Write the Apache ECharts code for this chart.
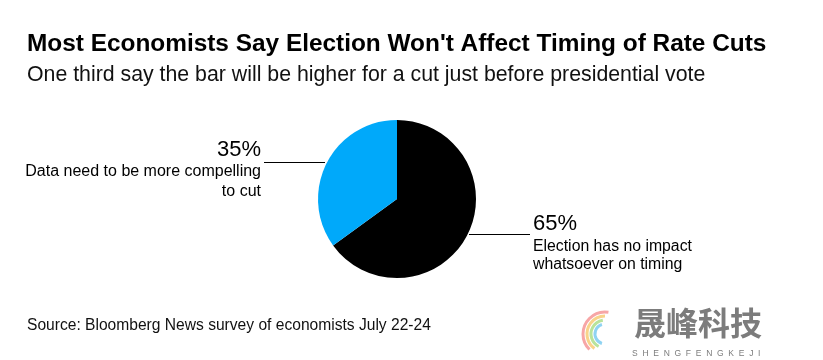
<!DOCTYPE html>
<html><head><meta charset="utf-8">
<script src="https://cdn.jsdelivr.net/npm/echarts@6/dist/echarts.min.js"></script>
<style>html,body{margin:0;padding:0;background:#fff}#c{width:823px;height:360px}</style>
</head><body><div id="c"></div>
<script>
var titleText = "Most Economists Say Election Won't Affect Timing of Rate Cuts";
var subtitleText = "One third say the bar will be higher for a cut just before presidential vote";
var sourceText = "Source: Bloomberg News survey of economists July 22-24";
var categories = ["Election has no impact\nwhatsoever on timing", "Data need to be more compelling\nto cut"];
var values = [65, 35];
var colors = ["#000000", "#00A9FA"];

var FONT = "'Liberation Sans', Arial, Helvetica, sans-serif";
var chart = echarts.init(document.getElementById('c'), null, {renderer: 'canvas'});
var pieData = categories.map(function (c, i) {
  return {name: c, value: values[i], itemStyle: {color: colors[i]}};
});
chart.setOption({
  animation: false,
  backgroundColor: '#fff',
  title: [
    {text: titleText, left: 27, top: 32, padding: 0, textStyle: {fontFamily: FONT, fontSize: 24.4, fontWeight: 'bold', color: '#000'}},
    {text: subtitleText, left: 27, top: 64.5, padding: 0, textStyle: {fontFamily: FONT, fontSize: 21.3, fontWeight: 'normal', color: '#111'}},
    {text: sourceText, left: 27, top: 318, padding: 0, textStyle: {fontFamily: FONT, fontSize: 15.6, fontWeight: 'normal', color: '#111'}}
  ],
  series: [{
    type: 'pie',
    center: [397, 199],
    radius: [0, 79],
    startAngle: 90,
    clockwise: true,
    silent: true,
    data: pieData,
    label: {
      show: true,
      fontFamily: FONT,
      formatter: function (p) {
        var k = p.dataIndex;
        return '{p' + k + '|' + p.value + '%}\n{t' + k + '|' + p.name.split('\n').join('}\n{t' + k + '|') + '}';
      },
      rich: {
        p0: {fontFamily: FONT, fontSize: 22, lineHeight: 27.3, color: '#000'},
        t0: {fontFamily: FONT, fontSize: 15.8, lineHeight: 18.3, color: '#000'},
        p1: {fontFamily: FONT, fontSize: 22, lineHeight: 22.2, color: '#000'},
        t1: {fontFamily: FONT, fontSize: 16, lineHeight: 20, color: '#000'}
      }
    },
    labelLine: {show: true, lineStyle: {color: '#000', width: 1}, length: 10, length2: 10},
    labelLayout: function (params) {
      if (params.dataIndex === 0) {
        return {x: 533, y: 209.9, align: 'left', verticalAlign: 'top',
          labelLinePoints: [[469, 234.5], [500, 234.5], [530, 234.5]]};
      }
      return {x: 261, y: 139.1, align: 'right', verticalAlign: 'top',
        labelLinePoints: [[325, 162.5], [295, 162.5], [264, 162.5]]};
    }
  }],
  graphic: [
    {type: 'rect', shape: {x: 0, y: 160, width: 25, height: 30}, style: {fill: '#fff'}, z: 100},
    {type: 'arc', shape: {cx: 605, cy: 334, r: 22, startAngle: Math.PI * 0.75, endAngle: Math.PI * 1.55}, style: {stroke: '#f7a6a6', lineWidth: 3, fill: null}, z: 50},
    {type: 'arc', shape: {cx: 605, cy: 334, r: 18, startAngle: Math.PI * 0.7, endAngle: Math.PI * 1.5}, style: {stroke: '#f8d38a', lineWidth: 3, fill: null}, z: 50},
    {type: 'arc', shape: {cx: 605, cy: 334, r: 14, startAngle: Math.PI * 0.65, endAngle: Math.PI * 1.45}, style: {stroke: '#b9e39b', lineWidth: 3, fill: null}, z: 50},
    {type: 'arc', shape: {cx: 605, cy: 334, r: 10, startAngle: Math.PI * 0.6, endAngle: Math.PI * 1.4}, style: {stroke: '#8fd3f2', lineWidth: 3, fill: null}, z: 50},
    {type: 'text', x: 634, y: 307, style: {text: '晟峰科技', fontFamily: "'Noto Sans CJK SC'", fontWeight: 'bold', fontSize: 32, fill: '#7c7c7c'}, z: 50},
    {type: 'text', x: 632, y: 349, style: {text: 'S  H  E  N  G  F  E  N  G  K  E  J  I', fontFamily: FONT, fontSize: 8.5, fill: '#7c7c7c'}, z: 50}
  ]
});
</script></body></html>
